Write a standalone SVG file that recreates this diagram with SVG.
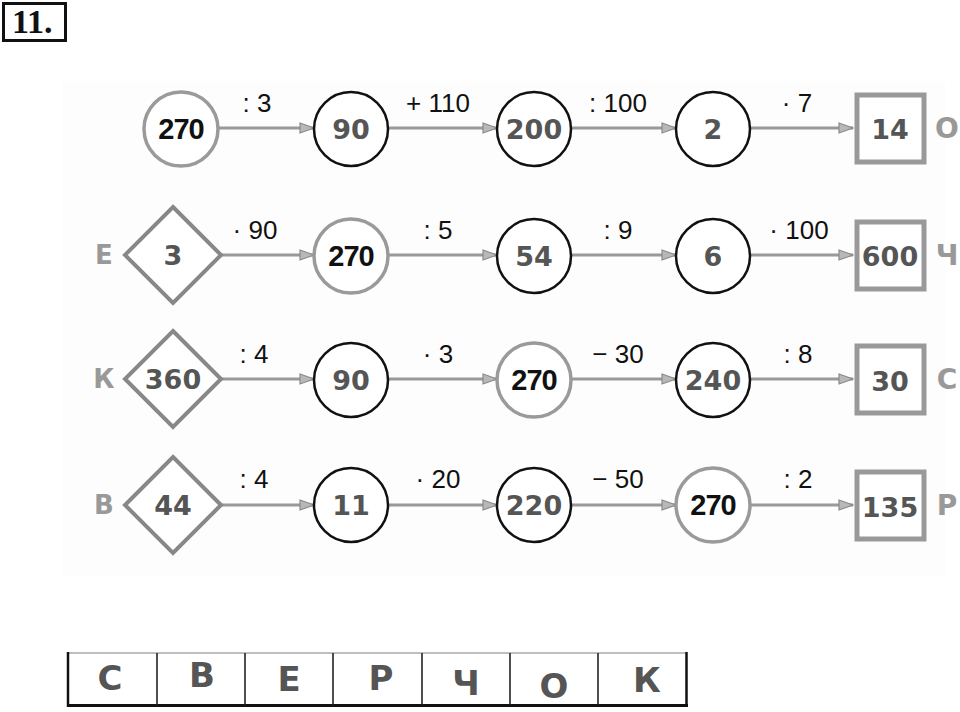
<svg xmlns="http://www.w3.org/2000/svg" width="960" height="712" viewBox="0 0 960 712">
<defs>
<marker id="ah" viewBox="0 0 16 12" refX="15" refY="6" markerWidth="16" markerHeight="12" markerUnits="userSpaceOnUse" orient="auto">
<path d="M1,1 L15,6 L1,11 Z" fill="#b8b8b8" stroke="#8a8a8a" stroke-width="1.2"/>
</marker>
<style>
.bg{fill:#fdfdfd}
.cb{fill:#fff;stroke:#111;stroke-width:2.5}
.cg{fill:#fff;stroke:#9a9a9a;stroke-width:3.5}
.dm{fill:#fff;stroke:#888;stroke-width:4}
.sq{fill:#fff;stroke:#999;stroke-width:5}
.n{font-family:"DejaVu Sans",sans-serif;font-weight:bold;font-size:27px;fill:#555;text-anchor:middle;dominant-baseline:central}
.nk{font-family:"Liberation Sans",Arial,sans-serif;font-weight:bold;font-size:29px;letter-spacing:-1px;fill:#111;text-anchor:middle;dominant-baseline:central}
.op{font-family:"Liberation Sans",Arial,sans-serif;font-size:26px;fill:#111;text-anchor:middle}
.lt{font-family:"DejaVu Sans",sans-serif;font-weight:bold;font-size:26px;fill:#999;text-anchor:middle;dominant-baseline:central}
.rt{font-size:28px}
.ar{stroke:#999;stroke-width:3;fill:none;marker-end:url(#ah)}
.cell{font-family:"DejaVu Sans",sans-serif;font-weight:bold;font-size:34px;fill:#555;text-anchor:middle}
.title{font-family:"Liberation Serif","Times New Roman",serif;font-weight:bold;font-size:34px;fill:#111}
</style>
</defs>
<rect width="960" height="712" fill="#fff"/>
<g id="title">
<rect x="3.5" y="3.5" width="62" height="37" fill="#fff" stroke="#111" stroke-width="3"/>
<text class="title" x="12" y="33">11.</text>
</g>
<rect class="bg" x="62" y="81" width="883" height="495"/>

<g id="connectors">
<line class="ar" x1="219" y1="128" x2="314" y2="128"/>
<line class="ar" x1="389" y1="128" x2="497" y2="128"/>
<line class="ar" x1="572" y1="128" x2="676" y2="128"/>
<line class="ar" x1="751" y1="128" x2="853" y2="128"/>
<line class="ar" x1="222" y1="255" x2="314" y2="255"/>
<line class="ar" x1="389" y1="255" x2="497" y2="255"/>
<line class="ar" x1="572" y1="255" x2="676" y2="255"/>
<line class="ar" x1="751" y1="255" x2="853" y2="255"/>
<line class="ar" x1="222" y1="379" x2="314" y2="379"/>
<line class="ar" x1="389" y1="379" x2="497" y2="379"/>
<line class="ar" x1="572" y1="379" x2="676" y2="379"/>
<line class="ar" x1="751" y1="379" x2="853" y2="379"/>
<line class="ar" x1="222" y1="505" x2="314" y2="505"/>
<line class="ar" x1="389" y1="505" x2="497" y2="505"/>
<line class="ar" x1="572" y1="505" x2="676" y2="505"/>
<line class="ar" x1="751" y1="505" x2="853" y2="505"/>
<text class="op" x="257" y="112">: 3</text>
<text class="op" x="438" y="112">+ 110</text>
<text class="op" x="618" y="112">: 100</text>
<text class="op" x="797" y="112">· 7</text>
<text class="op" x="255" y="239">· 90</text>
<text class="op" x="438" y="239">: 5</text>
<text class="op" x="618" y="239">: 9</text>
<text class="op" x="799" y="239">· 100</text>
<text class="op" x="254" y="363">: 4</text>
<text class="op" x="438" y="363">· 3</text>
<text class="op" x="618" y="363">− 30</text>
<text class="op" x="798" y="363">: 8</text>
<text class="op" x="254" y="488">: 4</text>
<text class="op" x="438" y="488">· 20</text>
<text class="op" x="618" y="488">− 50</text>
<text class="op" x="798" y="488">: 2</text>
</g>

<g id="r1n1"><circle class="cg" cx="181" cy="129" r="37"/><text class="nk" x="181" y="129">270</text></g>
<g id="r1n2"><circle class="cb" cx="351" cy="129" r="37"/><text class="n" x="351" y="129">90</text></g>
<g id="r1n3"><circle class="cb" cx="534" cy="129" r="37"/><text class="n" x="534" y="129">200</text></g>
<g id="r1n4"><circle class="cb" cx="713" cy="129" r="37"/><text class="n" x="713" y="129">2</text></g>
<g id="r1n5"><rect class="sq" x="857" y="95" width="67" height="67"/><text class="n" x="890" y="129">14</text></g>
<g id="r1l"><text class="lt rt" x="947" y="128">О</text></g>

<g id="r2l"><text class="lt" x="104" y="255">Е</text></g>
<g id="r2n1"><polygon class="dm" points="173,207 221,255 173,303 125,255"/><text class="n" x="173" y="255">3</text></g>
<g id="r2n2"><circle class="cg" cx="351" cy="256" r="37"/><text class="nk" x="351" y="256">270</text></g>
<g id="r2n3"><circle class="cb" cx="534" cy="256" r="37"/><text class="n" x="534" y="256">54</text></g>
<g id="r2n4"><circle class="cb" cx="713" cy="256" r="37"/><text class="n" x="713" y="256">6</text></g>
<g id="r2n5"><rect class="sq" x="857" y="222" width="67" height="67"/><text class="n" x="890" y="256">600</text></g>
<g id="r2r"><text class="lt rt" x="947" y="255">Ч</text></g>

<g id="r3l"><text class="lt" x="104" y="379">К</text></g>
<g id="r3n1"><polygon class="dm" points="173,331 221,379 173,427 125,379"/><text class="n" x="173" y="379">360</text></g>
<g id="r3n2"><circle class="cb" cx="351" cy="380" r="37"/><text class="n" x="351" y="380">90</text></g>
<g id="r3n3"><circle class="cg" cx="534" cy="380" r="37"/><text class="nk" x="534" y="380">270</text></g>
<g id="r3n4"><circle class="cb" cx="713" cy="380" r="37"/><text class="n" x="713" y="380">240</text></g>
<g id="r3n5"><rect class="sq" x="857" y="346" width="67" height="67"/><text class="n" x="890" y="381">30</text></g>
<g id="r3r"><text class="lt rt" x="947" y="379">С</text></g>

<g id="r4l"><text class="lt" x="104" y="505">В</text></g>
<g id="r4n1"><polygon class="dm" points="173,457 221,505 173,553 125,505"/><text class="n" x="173" y="505">44</text></g>
<g id="r4n2"><circle class="cb" cx="351" cy="505" r="37"/><text class="n" x="351" y="505">11</text></g>
<g id="r4n3"><circle class="cb" cx="534" cy="505" r="37"/><text class="n" x="534" y="505">220</text></g>
<g id="r4n4"><circle class="cg" cx="713" cy="505" r="37"/><text class="nk" x="713" y="505">270</text></g>
<g id="r4n5"><rect class="sq" x="857" y="472" width="67" height="67"/><text class="n" x="890" y="507">135</text></g>
<g id="r4r"><text class="lt rt" x="947" y="505">Р</text></g>

<g id="answer">
<line x1="67" y1="653" x2="687" y2="653" stroke="#aaa" stroke-width="1.5"/>
<line x1="67" y1="705.5" x2="688" y2="705.5" stroke="#111" stroke-width="3"/>
<line x1="68" y1="652" x2="68" y2="707" stroke="#111" stroke-width="2.5"/>
<line x1="686.5" y1="652" x2="686.5" y2="707" stroke="#111" stroke-width="2.5"/>
<g stroke="#222" stroke-width="1.6">
<line x1="157" y1="653" x2="157" y2="705"/>
<line x1="245" y1="653" x2="245" y2="705"/>
<line x1="333" y1="653" x2="333" y2="705"/>
<line x1="422" y1="653" x2="422" y2="705"/>
<line x1="510" y1="653" x2="510" y2="705"/>
<line x1="598" y1="653" x2="598" y2="705"/>
</g>
<text class="cell" x="110" y="690">С</text>
<text class="cell" x="202" y="687">В</text>
<text class="cell" x="289" y="691">Е</text>
<text class="cell" x="381" y="690">Р</text>
<text class="cell" x="466" y="695">Ч</text>
<text class="cell" x="554" y="698">О</text>
<text class="cell" x="647" y="692">К</text>
</g>
</svg>
